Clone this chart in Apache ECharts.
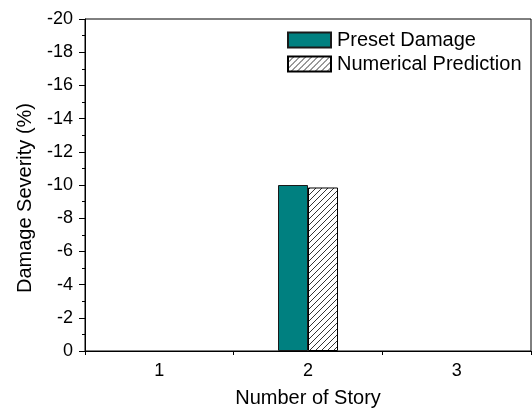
<!DOCTYPE html>
<html>
<head>
<meta charset="utf-8">
<script src="https://cdn.jsdelivr.net/npm/echarts@6/dist/echarts.min.js"></script>
<style>
html,body{margin:0;padding:0;background:#fff;}
#chart{width:532px;height:415px;}
</style>
</head>
<body>
<div id="chart"></div>
<script>
const categories = ['1', '2', '3'];
const presetDamage = [0, -10, 0];
const numericalPrediction = [0, -9.85, 0];
const seriesNames = ['Preset Damage', 'Numerical Prediction'];
const yMin = -20, yMax = 0, yInterval = 2;

const FONT = 'Liberation Sans, Arial, sans-serif';

function hatchPattern() {
  const c = document.createElement('canvas');
  c.width = 6; c.height = 6;
  const ctx = c.getContext('2d');
  ctx.fillStyle = '#fff';
  ctx.fillRect(0, 0, 6, 6);
  ctx.strokeStyle = '#000';
  ctx.lineWidth = 0.8;
  ctx.beginPath();
  ctx.moveTo(-1, 7); ctx.lineTo(7, -1);
  ctx.moveTo(-1, 1); ctx.lineTo(1, -1);
  ctx.moveTo(5, 7); ctx.lineTo(7, 5);
  ctx.stroke();
  return c;
}

// zero-height bars draw no outline
function toItems(arr) {
  return arr.map(v => v === 0 ? {value: v, itemStyle: {borderWidth: 0}} : v);
}

const chart = echarts.init(document.getElementById('chart'), null, {renderer: 'canvas'});
chart.setOption({
  animation: false,
  backgroundColor: '#fff',
  grid: {left: 85, right: 1, top: 19, bottom: 64, show: true, borderColor: '#000', borderWidth: 1},
  legend: {
    orient: 'vertical', left: 287, top: 30, padding: 0, itemWidth: 43, itemHeight: 15, itemGap: 4,
    icon: 'rect', data: seriesNames,
    textStyle: {fontFamily: FONT, fontSize: 20, color: '#000', padding: [0, 0, 0, 1]}
  },
  xAxis: [{
    type: 'category', data: categories,
    axisLine: {lineStyle: {color: '#000', width: 1}},
    axisTick: {alignWithLabel: true, length: 7, lineStyle: {color: '#000'}},
    axisLabel: {fontFamily: FONT, fontSize: 18, color: '#000', margin: 11},
    name: 'Number of Story', nameLocation: 'middle', nameGap: 37,
    nameTextStyle: {fontFamily: FONT, fontSize: 20, color: '#000'}
  }, {
    type: 'value', min: 0.5, max: 3.5, interval: 1, position: 'bottom',
    axisLine: {show: false}, axisLabel: {show: false}, splitLine: {show: false},
    axisTick: {show: true, length: 4, lineStyle: {color: '#000'}}
  }],
  yAxis: {
    type: 'value', min: yMin, max: yMax, interval: yInterval, inverse: true,
    axisLine: {show: true, lineStyle: {color: '#000', width: 1}},
    axisTick: {show: true, length: 6, lineStyle: {color: '#000'}},
    minorTick: {show: true, splitNumber: 2, length: 3, lineStyle: {color: '#000'}},
    splitLine: {show: false}, minorSplitLine: {show: false},
    axisLabel: {fontFamily: FONT, fontSize: 18, color: '#000', margin: 12},
    name: 'Damage Severity (%)', nameLocation: 'middle', nameGap: 50,
    nameTextStyle: {fontFamily: FONT, fontSize: 20, color: '#000', padding: [0, 26, 0, 0]}
  },
  series: [{
    name: seriesNames[0], type: 'bar', xAxisIndex: 0, data: toItems(presetDamage),
    barWidth: 30, barGap: '0%',
    itemStyle: {color: '#008080', borderColor: '#1a1a1a', borderWidth: 1}
  }, {
    name: seriesNames[1], type: 'bar', xAxisIndex: 0, data: toItems(numericalPrediction),
    barWidth: 30, barGap: '0%',
    itemStyle: {color: {image: hatchPattern(), repeat: 'repeat'}, borderColor: '#000', borderWidth: 1}
  }]
});
</script>
</body>
</html>
